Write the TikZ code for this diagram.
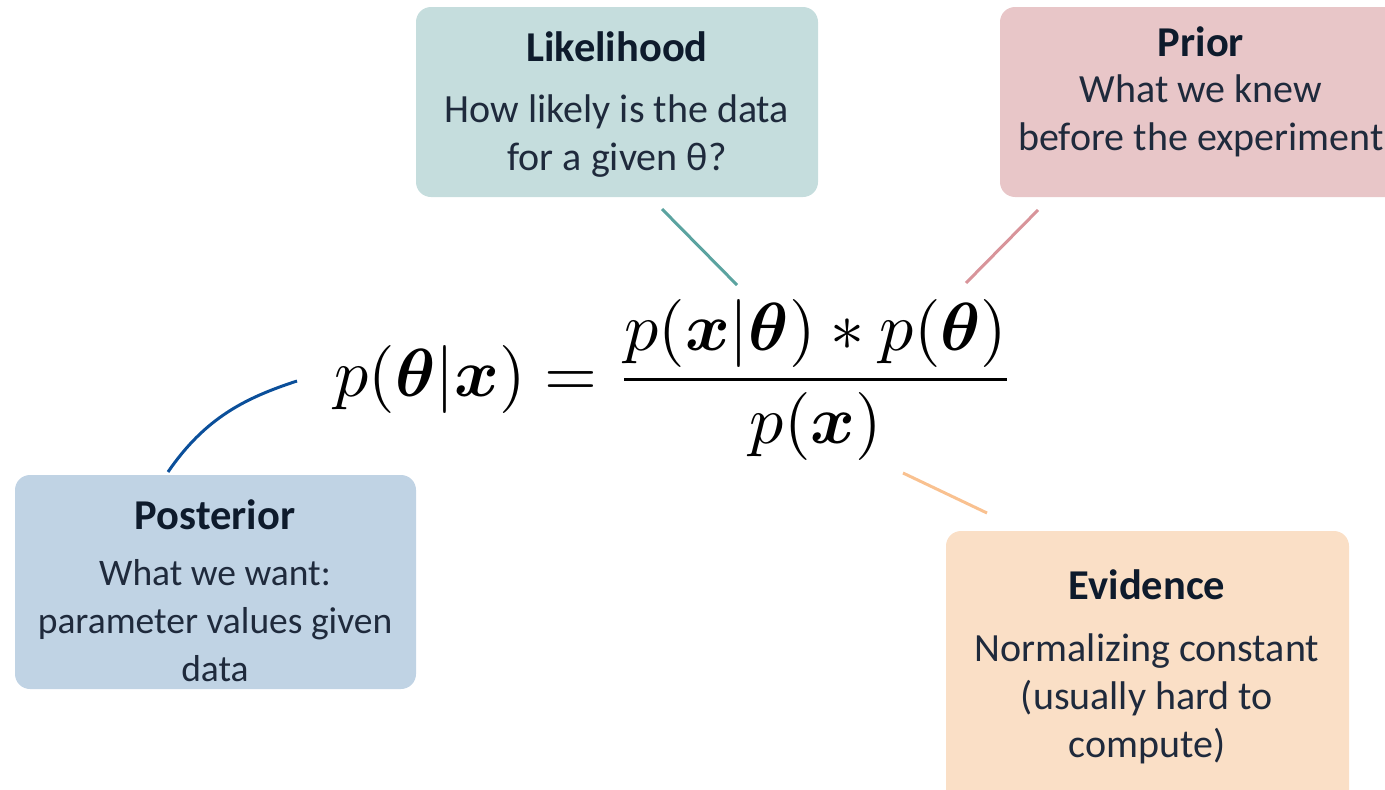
\documentclass[tikz,border=0pt]{standalone}
\usepackage{fontspec}
\usepackage{amsmath,bm}
\usepackage{graphicx}
\setmainfont{Carlito}
\definecolor{likefill}{HTML}{C5DDDD}
\definecolor{priorfill}{HTML}{E8C6C8}
\definecolor{postfill}{HTML}{C0D3E4}
\definecolor{evidfill}{HTML}{FADFC6}
\definecolor{likeline}{HTML}{5BA3A0}
\definecolor{priorline}{HTML}{D8949A}
\definecolor{postline}{HTML}{0B4F9A}
\definecolor{evidline}{HTML}{F9C190}
\definecolor{headtext}{HTML}{0E1B2C}
\definecolor{bodytext}{HTML}{1F2A3C}
\begin{document}
\begin{tikzpicture}[x=1pt,y=-1pt,
  infobox/.style={rounded corners=15pt, inner sep=0pt, draw=none},
  headtxt/.style={font=\fontsize{42.5}{48}\selectfont\bfseries, text=headtext, inner sep=0pt},
  bodytxt/.style={font=\fontsize{40}{48}\selectfont, text=bodytext, align=center, inner sep=0pt},
  conn/.style={line width=3pt}]
\useasboundingbox (0,0) rectangle (1385,790);
\clip (0,0) rectangle (1385,790);
% boxes
\path[infobox, fill=likefill] (416,7) rectangle (818,197);
\node[minimum width=402pt, minimum height=190pt, inner sep=0pt] (like) at (617,102) {};
\path[infobox, fill=priorfill] (1000,7) rectangle (1402,197);
\node[minimum width=402pt, minimum height=190pt, inner sep=0pt] (prior) at (1201,102) {};
\path[infobox, fill=postfill] (15,475) rectangle (416,689);
\node[minimum width=401pt, minimum height=214pt, inner sep=0pt] (post) at (215.5,582) {};
\path[infobox, fill=evidfill] (946,531) rectangle (1349,805);
\node[minimum width=403pt, minimum height=274pt, inner sep=0pt] (evid) at (1147.5,668) {};
% texts
\node[headtxt] (likeh) at (617,47) {Likelihood};
\node[bodytxt] (likeb) at (617,136) {How likely is the data\\for a given θ?};
\node[headtxt] (priorh) at (1201,42) {Prior};
\node[bodytxt] (priorb) at (1201,116) {What we knew\\before the experiment};
\node[headtxt] (posth) at (215,515) {Posterior};
\node[bodytxt, font=\fontsize{37.5}{48}\selectfont] (postb) at (215,621) {What we want:\\parameter values given\\data};
\node[headtxt] (evidh) at (1147,585) {Evidence};
\node[bodytxt] (evidb) at (1147,699) {Normalizing constant\\(usually hard to\\compute)};
% equation
\node[inner sep=0pt] (eq) at (675,380) {\scalebox{6.8}{$\displaystyle p(\bm{\theta}|\bm{x}) = \frac{p(\bm{x}|\bm{\theta}) * p(\bm{\theta})}{p(\bm{x})}$}};
% connectors
\coordinate (likeA) at (662,209);
\coordinate (likeB) at (737,285);
\coordinate (priorA) at (1038,210);
\coordinate (priorB) at (966,283);
\coordinate (postA) at (168,472);
\coordinate (postB) at (297,381);
\coordinate (evidA) at (903,473);
\coordinate (evidB) at (987,513);
\draw[conn, draw=likeline] (likeA) -- (likeB);
\draw[conn, draw=priorline] (priorA) -- (priorB);
\draw[conn, draw=postline] (postA) .. controls (205,418) and (245,398) .. (postB);
\draw[conn, draw=evidline] (evidA) -- (evidB);
\end{tikzpicture}
\end{document}
